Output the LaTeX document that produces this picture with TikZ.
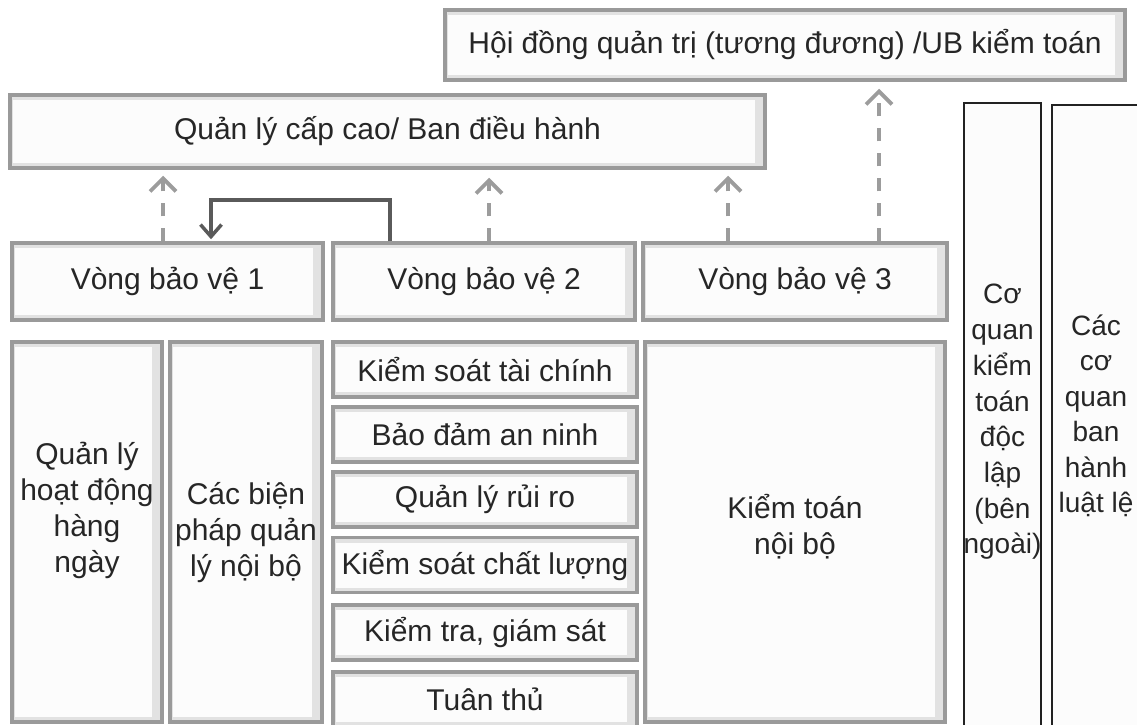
\documentclass[tikz,border=0pt]{standalone}
\usepackage{fontspec}
\setmainfont{Liberation Sans}
\usetikzlibrary{arrows.meta}
\definecolor{bord}{HTML}{9A9A9A}
\definecolor{band}{HTML}{E2E2E2}
\definecolor{paper}{HTML}{FCFCFC}
\definecolor{ink}{HTML}{262626}
\definecolor{darr}{HTML}{9C9C9C}
\definecolor{sarr}{HTML}{5A5A5A}
\definecolor{kline}{HTML}{222222}
\tikzset{
  gbox/.style={draw=bord, line width=3.5pt, fill=band, inner sep=0pt, text=ink, align=center,
    path picture={\fill[paper] ([xshift=3pt,yshift=-5pt]path picture bounding box.north west)
       rectangle ([xshift=-10pt,yshift=5pt]path picture bounding box.south east);}},
  kbox/.style={draw=kline, line width=2.5pt, fill=paper, inner sep=0pt},
  txt/.style={text=ink, align=center, inner sep=0pt},
  darrow/.style={draw=darr, line width=3.8pt, dash pattern=on 13pt off 12pt,
    -{Straight Barb[length=13pt,width=26pt,line width=3.8pt]}},
  sarrow/.style={draw=sarr, line width=3.5pt,
    -{Straight Barb[length=12pt,width=21pt,line width=3.5pt]}}
}
\begin{document}
\begin{tikzpicture}[x=1pt, y=-1pt, font=\fontsize{30}{36}\selectfont]
\useasboundingbox (0,0) rectangle (1137,725);
\clip (0,0) rectangle (1137,725);
\fill[white] (0,0) rectangle (1137,725);

% top boxes
\node[gbox, minimum width=680pt, minimum height=70pt] (hdqt) at (785,45) {Hội đồng quản trị (tương đương) /UB kiểm toán};
\node[gbox, minimum width=755pt, minimum height=73pt] (qlcc) at (387.5,131.5) {Quản lý cấp cao/ Ban điều hành};

% lines of defence
\node[gbox, minimum width=311pt, minimum height=77pt] (v1) at (167.5,281.5) {Vòng bảo vệ 1};
\node[gbox, minimum width=302pt, minimum height=77pt] (v2) at (484,281.5) {Vòng bảo vệ 2};
\node[gbox, minimum width=304pt, minimum height=77pt] (v3) at (795,281.5) {Vòng bảo vệ 3};

% lower columns
\node[gbox, minimum width=150pt, minimum height=380pt] (c1) at (87,532) {};
\node[txt] (c1t) at (87,510) {Quản lý\\hoạt động\\hàng\\ngày};
\node[gbox, minimum width=152pt, minimum height=380pt] (c2) at (246,532) {};
\node[txt] (c2t) at (246,533) {Các biện\\pháp quản\\lý nội bộ};

\node[gbox, minimum width=304pt, minimum height=55pt] (s1) at (485,369.5) {Kiểm soát tài chính};
\node[gbox, minimum width=304pt, minimum height=55pt] (s2) at (485,434.5) {Bảo đảm an ninh};
\node[gbox, minimum width=304pt, minimum height=55pt] (s3) at (485,499.5) {Quản lý rủi ro};
\node[gbox, minimum width=304pt, minimum height=55pt] (s4) at (485,565) {Kiểm soát chất lượng};
\node[gbox, minimum width=304pt, minimum height=55pt] (s5) at (485,632.5) {Kiểm tra, giám sát};
\node[gbox, minimum width=304pt, minimum height=55pt] (s6) at (485,699.5) {Tuân thủ};

\node[gbox, minimum width=300pt, minimum height=380pt] (ktnb) at (795,532) {};
\node[txt] (ktnbt) at (795,527) {Kiểm toán\\nội bộ};

% external bodies
\node[kbox, minimum width=77pt, minimum height=640pt] (e1) at (1002.5,423) {};
\node[txt, font=\fontsize{28}{35.7}\selectfont] (e1t) at (1002.5,422) {Cơ\\quan\\kiểm\\toán\\độc\\lập\\(bên\\ngoài)};
\node[kbox, minimum width=100pt, minimum height=640pt] (e2) at (1102,425) {};
\node[txt, font=\fontsize{28}{35.5}\selectfont] (e2t) at (1096,416) {Các\\cơ\\quan\\ban\\hành\\luật lệ};

% reporting arrows
\draw[darrow, shorten >=6pt] ([xshift=-4.5pt]v1.north) -- ([xshift=-4.5pt]v1.north |- qlcc.south);
\draw[darrow, shorten >=8pt] ([xshift=5pt]v2.north) -- ([xshift=5pt]v2.north |- qlcc.south);
\draw[darrow, shorten >=6pt] ([xshift=-67pt]v3.north) -- ([xshift=-67pt]v3.north |- qlcc.south);
\draw[darrow, shorten >=7pt] ([xshift=84pt]v3.north) -- ([xshift=84pt]v3.north |- hdqt.south);

% feedback arrow from line 2 to line 1
\coordinate (turn) at (390,200);
\draw[sarrow, shorten >=2pt] ([xshift=-94pt]v2.north) -- ([xshift=-94pt]v2.north |- turn) -| ([xshift=43.5pt]v1.north);
\end{tikzpicture}
\end{document}
